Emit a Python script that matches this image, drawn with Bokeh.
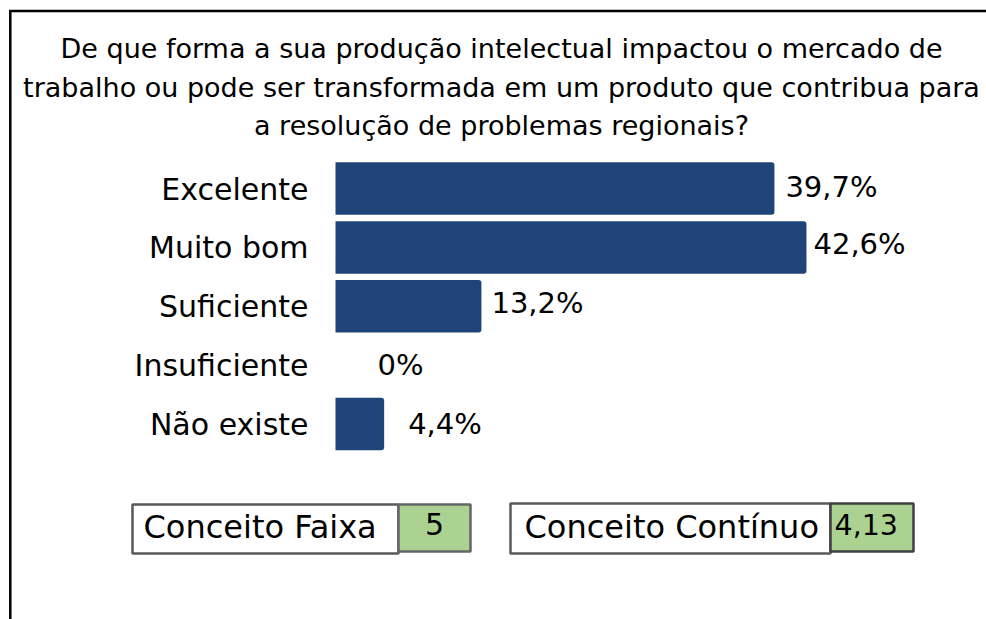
from bokeh.plotting import figure
from bokeh.models import Range1d, ColumnDataSource
from bokeh.core.properties import value
from bokeh.embed import file_html
from bokeh.resources import INLINE

# ---- data ----
title_lines = [
    "De que forma a sua produção intelectual impactou o mercado de",
    "trabalho ou pode ser transformada em um produto que contribua para",
    "a resolução de problemas regionais?",
]
categories = ["Excelente", "Muito bom", "Suficiente", "Insuficiente", "Não existe"]
percent = [39.7, 42.6, 13.2, 0.0, 4.4]
percent_labels = ["39,7%", "42,6%", "13,2%", "0%", "4,4%"]
faixa_label = "Conceito Faixa"
faixa_value = "5"
continuo_label = "Conceito Contínuo"
continuo_value = "4,13"

# ---- styling / layout ----
W, H = 986, 619
FONT = value("DejaVu Sans")
BAR = "#1f4478"
GREEN = "#acd292"
label_dx = [11, 7, 10, 42, 24]      # px offset of value labels from bar end
label_dy = [-2, -3, -3.5, 0, -0.5]  # px baseline offset from row centre

KX = 11.056            # px per percent
KY = 58.875            # px per row
ORIGIN_PX = 335        # canvas px of 0%
ROW0_PX = 188          # canvas px of first row centre

x0 = -ORIGIN_PX / KX
x1 = x0 + W / KX
y_top = -ROW0_PX / KY
y_bot = y_top + H / KY

def px2x(sx):
    return x0 + sx / KX

def px2y(sy):
    return y_top + sy / KY

p = figure(width=W, height=H, output_backend="svg", toolbar_location=None,
           x_range=Range1d(x0, x1), y_range=Range1d(y_bot, y_top),
           x_axis_type=None, y_axis_type=None, min_border=0)
p.outline_line_color = None
p.grid.visible = False
p.background_fill_color = "white"
p.border_fill_color = "white"

rows = list(range(len(categories)))
src = ColumnDataSource(dict(y=rows, v=percent, cat=categories, lab=percent_labels,
                            dx=label_dx, dy=label_dy))

p.hbar(y="y", left=0, right="v", height=52.5 / KY, source=src, fill_color=BAR,
       line_color=None, border_radius=(0, 3, 3, 0))

# category labels
p.text(x=px2x(308), y="y", text="cat", source=src, text_font=FONT,
       text_font_size="30px", text_align="right", text_baseline="alphabetic",
       y_offset=0.5, text_color="black")

# value labels
p.text(x="v", y="y", text="lab", source=src, text_font=FONT,
       text_font_size="29px", text_align="left", text_baseline="alphabetic",
       x_offset="dx", y_offset="dy", text_color="black")

# title
title_base = [48, 87, 125]
p.text(x=[px2x(501)] * 3, y=[px2y(b) for b in title_base], text=title_lines,
       text_font=FONT, text_font_size="27px", text_align="center",
       text_baseline="alphabetic", text_color="black")

# outer frame (left & top visible)
p.line(x=[px2x(9.8), px2x(9.8), px2x(W + 5)], y=[px2y(H + 5), px2y(10.6), px2y(10.6)],
       line_color="black", line_width=2.5, line_join="miter")

# concept boxes
def box(l, r, t, b, fill, line):
    p.quad(left=[px2x(l)], right=[px2x(r)], top=[px2y(t)], bottom=[px2y(b)],
           fill_color=fill, line_color=line, line_width=2.5)

box(132, 398, 504, 553, "white", "#595959")
box(398, 470, 504, 551, GREEN, "#666666")
box(510, 830, 503, 553, "white", "#595959")
box(830, 913, 503, 551, GREEN, "#404040")

p.text(x=[px2x(143)], y=[px2y(526)], text=[faixa_label], text_font=FONT,
       text_font_size="32px", text_align="left", text_baseline="alphabetic")
p.text(x=[px2x(434)], y=[px2y(523)], text=[faixa_value], text_font=FONT,
       text_font_size="30px", text_align="center", text_baseline="alphabetic")
p.text(x=[px2x(524)], y=[px2y(526)], text=[continuo_label], text_font=FONT,
       text_font_size="32px", text_align="left", text_baseline="alphabetic")
p.text(x=[px2x(834)], y=[px2y(524)], text=[continuo_value], text_font=FONT,
       text_font_size="28.5px", text_align="left", text_baseline="alphabetic")

open("out.html", "w").write(file_html(p, INLINE))
